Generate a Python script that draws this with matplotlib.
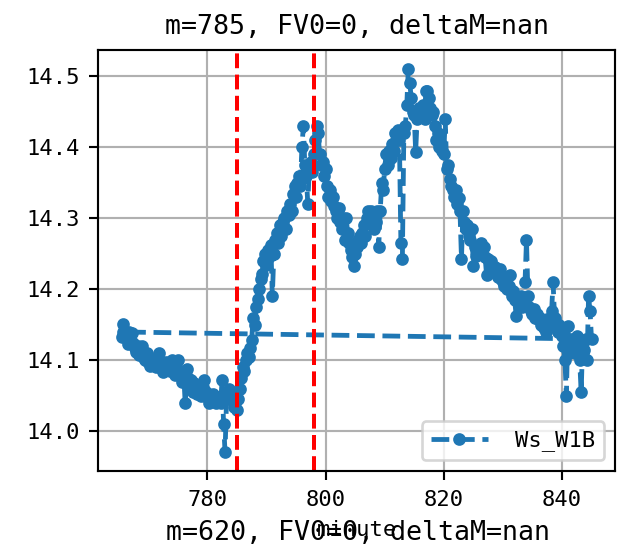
"""
Ws_W1B minute chart around m=785.

Draws the Ws_W1B series against minute with the two red marker
lines, and the title of the next panel that sits just under the axis.
"""

import numpy as np
import matplotlib
matplotlib.use("Agg")
import matplotlib.pyplot as plt


# Series values, one every quarter minute from 765.5 to 845.0
START_MINUTE = 765.5
STEP = 0.25
ws_w1b = [
    14.133, 14.151,
    14.140, 14.135, 14.123, 14.140,   # 766
    14.128, 14.138, 14.125, 14.118,   # 767
    14.112, 14.120, 14.108, 14.115,   # 768
    14.120, 14.104, 14.100, 14.110,   # 769
    14.098, 14.092, 14.100, 14.095,   # 770
    14.102, 14.090, 14.098, 14.110,   # 771
    14.095, 14.088, 14.083, 14.092,   # 772
    14.098, 14.088, 14.094, 14.085,   # 773
    14.100, 14.090, 14.080, 14.092,   # 774
    14.100, 14.085, 14.078, 14.070,   # 775
    14.082, 14.040, 14.088, 14.075,   # 776
    14.065, 14.072, 14.055, 14.068,   # 777
    14.060, 14.052, 14.058, 14.055,   # 778
    14.050, 14.062, 14.072, 14.055,   # 779
    14.048, 14.040, 14.050, 14.045,   # 780
    14.052, 14.045, 14.040, 14.048,   # 781
    14.042, 14.040, 14.072, 14.011,   # 782
    13.971, 14.045, 14.050, 14.060,   # 783
    14.045, 14.050, 14.034, 14.040,   # 784
    14.030, 14.045, 14.060, 14.075,   # 785
    14.090, 14.085, 14.100, 14.110,   # 786
    14.105, 14.118, 14.128, 14.160,   # 787
    14.150, 14.175, 14.186, 14.200,   # 788
    14.215, 14.222, 14.240, 14.250,   # 789
    14.235, 14.255, 14.245, 14.262,   # 790
    14.190, 14.250, 14.270, 14.280,   # 791
    14.265, 14.290, 14.275, 14.295,   # 792
    14.300, 14.285, 14.310, 14.305,   # 793
    14.320, 14.310, 14.335, 14.345,   # 794
    14.330, 14.350, 14.360, 14.345,   # 795
    14.400, 14.430, 14.375, 14.360,   # 796
    14.320, 14.370, 14.380, 14.365,   # 797
    14.390, 14.410, 14.430, 14.420,   # 798
    14.390, 14.375, 14.380, 14.360,   # 799
    14.370, 14.345, 14.330, 14.340,   # 800
    14.325, 14.330, 14.318, 14.310,   # 801
    14.300, 14.315, 14.295, 14.285,   # 802
    14.300, 14.270, 14.300, 14.280,   # 803
    14.265, 14.255, 14.245, 14.233,   # 804
    14.250, 14.260, 14.270, 14.275,   # 805
    14.265, 14.280, 14.290, 14.275,   # 806
    14.300, 14.310, 14.295, 14.310,   # 807
    14.300, 14.285, 14.295, 14.310,   # 808
    14.260, 14.310, 14.350, 14.340,   # 809
    14.370, 14.390, 14.375, 14.395,   # 810
    14.385, 14.405, 14.395, 14.420,   # 811
    14.410, 14.425, 14.410, 14.265,   # 812
    14.243, 14.420, 14.430, 14.460,   # 813
    14.510, 14.490, 14.470, 14.450,   # 814
    14.445, 14.394, 14.440, 14.455,   # 815
    14.445, 14.450, 14.460, 14.440,   # 816
    14.480, 14.480, 14.470, 14.455,   # 817
    14.445, 14.450, 14.430, 14.410,   # 818
    14.420, 14.400, 14.405, 14.395,   # 819
    14.390, 14.440, 14.370, 14.375,   # 820
    14.355, 14.346, 14.340, 14.330,   # 821
    14.340, 14.320, 14.328, 14.310,   # 822
    14.243, 14.310, 14.295, 14.285,   # 823
    14.290, 14.275, 14.270, 14.285,   # 824
    14.233, 14.260, 14.247, 14.255,   # 825
    14.250, 14.265, 14.255, 14.260,   # 826
    14.245, 14.220, 14.243, 14.235,   # 827
    14.240, 14.230, 14.228, 14.232,   # 828
    14.225, 14.218, 14.228, 14.215,   # 829
    14.210, 14.205, 14.212, 14.200,   # 830
    14.205, 14.220, 14.190, 14.198,   # 831
    14.185, 14.163, 14.186, 14.180,   # 832
    14.190, 14.175, 14.182, 14.210,   # 833
    14.270, 14.190, 14.175, 14.170,   # 834
    14.165, 14.172, 14.160, 14.165,   # 835
    14.158, 14.160, 14.150, 14.155,   # 836
    14.145, 14.140, 14.158, 14.150,   # 837
    14.148, 14.170, 14.210, 14.160,   # 838
    14.145, 14.140, 14.150, 14.140,   # 839
    14.135, 14.120, 14.100, 14.050,   # 840
    14.148, 14.110, 14.130, 14.115,   # 841
    14.126, 14.110, 14.135, 14.120,   # 842
    14.100, 14.055, 14.125, 14.115,   # 843
    14.130, 14.100, 14.190, 14.170,   # 844
    14.130,
]

# The record wraps back to the start of the window at the end
WRAP_MINUTE = 765.75
WRAP_VALUE = 14.140

# Marker lines and titles
MARKER_MINUTES = [785, 798]
TITLE = "m=785, FV0=0, deltaM=nan"
NEXT_TITLE = "m=620, FV0=0, deltaM=nan"
SERIES_NAME = "Ws_W1B"


def main():
    plt.rcParams["font.family"] = ["DejaVu Sans Mono"]
    plt.rcParams["font.size"] = 8.3

    minutes = START_MINUTE + STEP * np.arange(len(ws_w1b))
    x = np.append(minutes, WRAP_MINUTE)
    y = np.append(ws_w1b, WRAP_VALUE)

    fig = plt.figure(figsize=(625 / 192, 551 / 192), dpi=192)
    ax = fig.add_axes([0.157, 0.145, 0.827, 0.764])

    ax.plot(x, y, ".--", color="tab:blue", lw=1.8, ms=7.5, label=SERIES_NAME)
    for m in MARKER_MINUTES:
        ax.axvline(m, color="red", linestyle="--")

    ax.grid(True)
    ax.set_title(TITLE, fontsize=10)
    ax.set_xlabel("minute")
    ax.set_xticks([780, 800, 820, 840])
    ax.legend(loc="lower right", handlelength=2.6, handletextpad=1.2)

    # title of the panel below, overlapping the x label
    fig.text(0.573, 0.033, NEXT_TITLE, fontsize=10, ha="center", va="center")

    fig.savefig("out.png", dpi=192)


if __name__ == "__main__":
    main()
